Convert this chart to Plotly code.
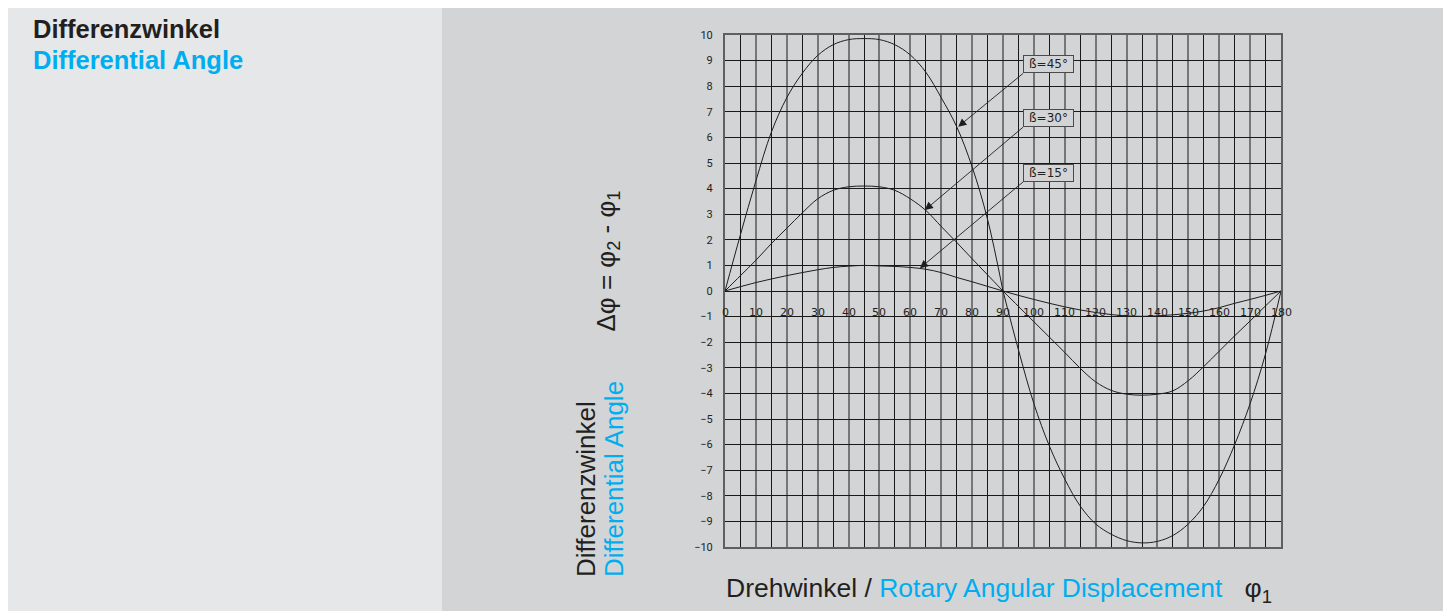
import plotly.graph_objects as go

# rotary angle phi1 in degrees
angles = list(range(0, 181, 5))

# differential angle, one list per joint angle
beta_45 = [0, 2.2, 4.3, 6.2, 7.55, 8.5, 9.2, 9.62, 9.82, 9.86, 9.82, 9.62, 9.22, 8.55,
           7.55, 6.42, 4.85, 2.8, 0,
           -2.3, -4.4, -6.05, -7.35, -8.4, -9.1, -9.5, -9.75, -9.84, -9.78, -9.55,
           -9.1, -8.4, -7.35, -6.0, -4.4, -2.45, 0]
beta_30 = [0, 0.6, 1.2, 1.85, 2.45, 3.05, 3.6, 3.93, 4.07, 4.1, 4.07, 3.93, 3.6, 3.15,
           2.52, 1.9, 1.26, 0.63, 0,
           -0.6, -1.2, -1.8, -2.4, -3.02, -3.55, -3.88, -4.03, -4.07, -4.03, -3.9,
           -3.5, -2.95, -2.35, -1.75, -1.17, -0.58, 0]
beta_15 = [0, 0.17, 0.33, 0.47, 0.6, 0.72, 0.83, 0.92, 0.97, 1.0, 0.98, 0.96, 0.92, 0.85,
           0.72, 0.53, 0.36, 0.18, 0,
           -0.17, -0.33, -0.48, -0.62, -0.74, -0.84, -0.92, -0.97, -0.99, -0.97, -0.93,
           -0.87, -0.78, -0.65, -0.48, -0.33, -0.17, 0]

curve_labels = ["ß=45°", "ß=30°", "ß=15°"]
x_ticks = list(range(0, 181, 10))
x_tick_labels = [str(t) for t in x_ticks]
y_ticks = list(range(-10, 11))

BLUE = "#00aeef"
TEXT = "#231f20"
LEFT_BG = "#e6e7e9"
RIGHT_BG = "#d3d4d6"
GRID_GRAY = "rgb(118,118,118)"
GRID_BLACK = "rgb(25,25,25)"
TICK_FONT = "Roboto, DejaVu Sans"
LABEL_FONT = "DejaVu Sans"
TITLE_FONT = "Liberation Sans, Arial, sans-serif"

# the page body adds an 8px margin, so the figure is a bit smaller than the window
OFF = 8
W, H = 1451 - OFF, 611 - OFF
L, R, T, B = 725 - OFF, 170, 35 - OFF, 64


def px(x):
    # window pixel -> paper coordinate
    return (x - OFF - L) / (W - L - R)


def py(y):
    return (H - B - (y - OFF)) / (H - T - B)


fig = go.Figure()

mid = angles.index(90)
for vals in (beta_45, beta_30, beta_15):
    for sl in (slice(0, mid + 1), slice(mid, None)):
        fig.add_trace(go.Scatter(
            x=angles[sl], y=vals[sl], mode="lines",
            line=dict(color="#1e1e1e", width=1, shape="spline", smoothing=1.0),
            hoverinfo="x+y", showlegend=False))

# background panels
fig.add_shape(type="rect", xref="paper", yref="paper", x0=px(0), x1=px(442),
              y0=py(620), y1=py(0), fillcolor=LEFT_BG, line_width=0, layer="below")
fig.add_shape(type="rect", xref="paper", yref="paper", x0=px(442), x1=px(1460),
              y0=py(620), y1=py(0), fillcolor=RIGHT_BG, line_width=0, layer="below")

annotations = []

# x tick labels sit on the zero line
for t, lab in zip(x_ticks, x_tick_labels):
    annotations.append(dict(x=t, y=0, xref="x", yref="y", text=lab, showarrow=False,
                            yanchor="middle", yshift=-21,
                            font=dict(family=LABEL_FONT, size=11, color=TEXT)))

# curve callouts
heads = [(75.5, 6.42), (64.7, 3.16), (63.1, 0.89)]
tails = [(96.5, 8.5), (96.5, 6.4), (96.5, 4.26)]
for lab, (hx, hy), (tx, ty) in zip(curve_labels, heads, tails):
    annotations.append(dict(
        x=hx, y=hy, ax=tx, ay=ty, xref="x", yref="y", axref="x", ayref="y",
        text=lab, showarrow=True, arrowhead=2, arrowsize=1.8, arrowwidth=0.9,
        arrowcolor="#1e1e1e", xanchor="left", yanchor="bottom",
        width=49, height=16, borderpad=0, borderwidth=1, bordercolor="#4a4a4a",
        bgcolor=RIGHT_BG, font=dict(family=LABEL_FONT, size=12, color=TEXT)))

# headline
annotations.append(dict(x=px(31), y=py(28.5), xref="paper", yref="paper",
                        text="<b>Differenzwinkel</b>", showarrow=False,
                        xanchor="left", yanchor="middle",
                        font=dict(family=TITLE_FONT, size=25.5, color=TEXT)))
annotations.append(dict(x=px(31), y=py(59.5), xref="paper", yref="paper",
                        text="<b>Differential Angle</b>", showarrow=False,
                        xanchor="left", yanchor="middle",
                        font=dict(family=TITLE_FONT, size=25.5, color=BLUE)))

# y axis titles
annotations.append(dict(x=px(607), y=py(261.5), xref="paper", yref="paper",
                        text="Δφ = φ<sub>2</sub> - φ<sub>1</sub>", showarrow=False,
                        textangle=-90, xanchor="center", yanchor="middle",
                        font=dict(family=TITLE_FONT, size=26, color=TEXT)))
annotations.append(dict(x=px(586), y=py(579), xref="paper", yref="paper",
                        text="Differenzwinkel", showarrow=False,
                        textangle=-90, xanchor="center", yanchor="bottom",
                        font=dict(family=TITLE_FONT, size=26, color=TEXT)))
annotations.append(dict(x=px(614), y=py(579), xref="paper", yref="paper",
                        text="Differential Angle", showarrow=False,
                        textangle=-90, xanchor="center", yanchor="bottom",
                        font=dict(family=TITLE_FONT, size=26, color=BLUE)))

# x axis title
annotations.append(dict(
    x=px(724), y=py(590), xref="paper", yref="paper", showarrow=False,
    xanchor="left", yanchor="middle",
    text="Drehwinkel / <span style='color:%s'>Rotary Angular Displacement</span>"
         "\u00a0\u00a0 φ<sub>1</sub>" % BLUE,
    font=dict(family=TITLE_FONT, size=26.5, color=TEXT)))

fig.update_layout(
    width=W, height=H,
    margin=dict(l=L, r=R, t=T, b=B, pad=0),
    paper_bgcolor="white",
    plot_bgcolor="rgba(0,0,0,0)",
    annotations=annotations,
    xaxis=dict(range=[0, 180], dtick=10, tick0=0, showticklabels=False, ticks="",
               showgrid=True, gridcolor=GRID_GRAY, gridwidth=2, zeroline=False,
               minor=dict(dtick=5, tick0=0, showgrid=True, gridcolor=GRID_BLACK,
                          gridwidth=1),
               showline=True, mirror=True, linecolor="rgb(95,95,95)", linewidth=2,
               fixedrange=True),
    yaxis=dict(range=[-10, 10], tickvals=y_ticks, ticks="", ticklabelstandoff=8,
               showgrid=True, gridcolor=GRID_BLACK, gridwidth=1, zeroline=False,
               showline=True, mirror=True, linecolor="rgb(95,95,95)", linewidth=2,
               tickfont=dict(family=TICK_FONT, size=11, color=TEXT),
               fixedrange=True),
    yaxis2=dict(range=[-10, 10], dtick=2, tick0=0, overlaying="y", anchor="x",
                showticklabels=False, ticks="", showgrid=True, gridcolor=GRID_GRAY,
                gridwidth=2, zeroline=False, fixedrange=True),
)

fig.write_html("out.html")
